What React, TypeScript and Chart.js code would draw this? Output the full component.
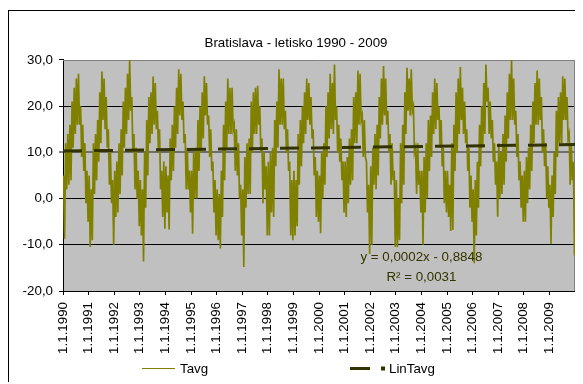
import React, { useEffect, useRef } from 'react';
import { Chart, registerables } from 'chart.js';

Chart.register(...registerables);

const chartTitle = 'Bratislava - letisko 1990 - 2009';
const firstYear = 1990;
const lastYear = 2010;

const xTickLabels = [
  '1.1.1990', '1.1.1991', '1.1.1992', '1.1.1993', '1.1.1994',
  '1.1.1995', '1.1.1996', '1.1.1997', '1.1.1998', '1.1.1999',
  '1.1.2000', '1.1.2001', '1.1.2002', '1.1.2003', '1.1.2004',
  '1.1.2005', '1.1.2006', '1.1.2007', '1.1.2008', '1.1.2009',
];

const yMin = -20;
const yMax = 30;
const yStep = 10;

// Tavg: highest daily value in each month, Jan..Dec, one row per year 1990..2009
const tavgMonthlyHigh = [
  5, 12, 14, 16, 21, 24, 26, 27, 20, 16, 12, 6,
  5, 2, 12, 14, 17, 23, 27.5, 26, 22, 15, 10, 4,
  6, 8, 12, 15, 21, 24, 27, 30, 22, 14, 11, 6,
  4, 2, 10, 17, 22, 23, 26.4, 25, 19, 15, 6, 8,
  7, 5, 13, 16, 20, 24, 28, 27, 21, 14, 11, 6,
  6, 10, 11, 17, 20, 23, 26.5, 25, 18, 15, 8, 4,
  2, 1, 6, 16, 21, 26, 24, 24, 16, 15, 12, 3,
  2, 9, 12, 13, 21, 23, 24, 24.4, 20, 13, 10, 7,
  8, 10, 11, 17, 21, 28, 26, 26, 19, 15, 8, 4,
  6, 4, 14, 17, 20, 23, 26, 25, 22, 15, 9, 6,
  5, 10, 12, 20, 23, 27, 25, 29, 20, 16, 13, 8,
  8, 9, 13, 15, 22, 23, 27.7, 27, 18, 17, 8, 3,
  7, 11, 14, 16, 22, 26, 28.7, 26, 19, 14, 12, 6,
  4, 0, 12, 16, 23, 28.3, 26, 28, 20, 11, 12, 6,
  6, 9, 12, 17, 18, 23, 26, 25, 20, 17, 11, 6,
  6, 3, 12, 16, 23, 26, 28.5, 24, 21, 15, 11, 5,
  2, 4, 8, 16, 20, 25, 29, 24, 21, 17, 12, 8,
  12, 10, 14, 18, 23, 27, 30, 26, 19, 14, 8, 5,
  6, 9, 11, 16, 21, 25, 27.7, 26, 22, 15, 12, 7,
  3, 5, 10, 19, 22, 23, 26.5, 26, 22, 14, 12, 8,
];

// Tavg: lowest daily value in each month, Jan..Dec, one row per year 1990..2009
const tavgMonthlyLow = [
  -8.7, 2, 3, 4, 11, 14, 16, 16, 9, 6, -1, -5,
  -10.5, -9, 1, 4, 8, 12, 17, 15, 11, 3, -1, -10,
  -4, -3, 1, 5, 11, 14, 17, 19, 10, 2, 0, -6,
  -8, -13.6, -2, 5, 12, 14, 16, 15, 10, 2, -4, -6.5,
  -3, -6.7, 4, 6, 11, 14, 18, 17, 12, 2, 2, -3,
  -7.6, 0, 0, 6, 10, 13, 18, 16, 9, 6, -3, -8,
  -9, -10.8, -4, 4, 11, 14, 14, 15, 6, 5, 0, -8,
  -14.8, -2, 1, 1, 10, 14, 14, 16, 10, -1, 2, -8,
  -8, -3, -4, 7, 11, 16, 16, 15, 10, 6, -8, -9,
  -8, -6, 3, 7, 12, 14, 17, 16, 13, 5, -4, -5,
  -7.5, 0, 3, 9, 13, 15, 14, 17, 10, 8, 4, -3,
  -4, -1, 3, 4, 12, 12, 16, 17, 9, 9, -3, -12,
  -10, 3, 2, 5, 13, 16, 18, 16, 10, 3, 4, -10.5,
  -10.5, -9, -1, 3, 14, 19, 18, 19, 10, 1, 3, -3,
  -10, -3, 0, 6, 9, 14, 15, 17, 11, 7, -1, -3,
  -4, -7, -6.8, 6, 10, 14, 17, 14, 12, 6, -2, -5,
  -14, -8, -2, 7, 11, 14, 21, 14, 13, 8, 3, -3.9,
  0, 1, 3, 8, 13, 17, 17, 16, 9, 4, -2, -5,
  -5, -1, 2, 6, 12, 16, 16, 17, 10, 7, 0, -2,
  -9.8, -4, 1, 9, 12, 12, 17, 17, 13, 3, 4, -12.3,
];

// Linear trend end values
const linTavgStart = 10.3;
const linTavgEnd = 11.7;

const seriesNames = ['Tavg', 'LinTavg'];
const trendEquation = 'y = 0,0002x - 0,8848';
const trendR2 = 'R² = 0,0031';
const equationAt = { x: 2004, y1: -12.7, y2: -17.0 };

const FONT = '"Liberation Sans", Arial, sans-serif';
const FS = 13.33;
const TAVG_COLOR = '#808000';
const TREND_COLOR = '#333300';

const plotFrame = {
  id: 'plotFrame',
  beforeDraw(chart: any) {
    const { ctx, chartArea: a } = chart;
    ctx.save();
    ctx.fillStyle = '#C0C0C0';
    ctx.fillRect(a.left, a.top, a.right - a.left, a.bottom - a.top);
    ctx.restore();
  },
  beforeDatasetsDraw(chart: any) {
    const { ctx, chartArea: a } = chart;
    ctx.save();
    ctx.strokeStyle = '#808080';
    ctx.lineWidth = 1;
    ctx.beginPath();
    const t = Math.round(a.top) + 0.5;
    const r = Math.round(a.right) - 0.5;
    ctx.moveTo(a.left, t);
    ctx.lineTo(r, t);
    ctx.lineTo(r, a.bottom);
    ctx.stroke();
    ctx.restore();
  },
};

const annotations = {
  id: 'annotations',
  afterDraw(chart: any) {
    const { ctx } = chart;
    const xs = chart.scales.x;
    const ys = chart.scales.y;
    ctx.save();
    // trend equation
    ctx.font = `${FS}px ${FONT}`;
    ctx.fillStyle = TREND_COLOR;
    ctx.textAlign = 'center';
    ctx.textBaseline = 'middle';
    const ex = xs.getPixelForValue(equationAt.x);
    ctx.fillText(trendEquation, ex, ys.getPixelForValue(equationAt.y1));
    ctx.fillText(trendR2, ex, ys.getPixelForValue(equationAt.y2));

    // legend
    const cx = chart.width / 2;
    const ly = chart.height - 16;
    ctx.textAlign = 'left';
    ctx.fillStyle = '#000';
    ctx.strokeStyle = TAVG_COLOR;
    ctx.lineWidth = 1;
    ctx.beginPath();
    ctx.moveTo(cx - 154, ly + 0.5);
    ctx.lineTo(cx - 121, ly + 0.5);
    ctx.stroke();
    ctx.fillText(seriesNames[0], cx - 116, ly + 1);

    ctx.fillStyle = TREND_COLOR;
    ctx.fillRect(cx + 54, ly - 1, 20, 3);
    ctx.fillRect(cx + 85, ly - 1.5, 4, 4);
    ctx.fillStyle = '#000';
    ctx.fillText(seriesNames[1], cx + 93, ly + 1);
    ctx.restore();
  },
};

export default function App() {
  const canvasRef = useRef<HTMLCanvasElement | null>(null);

  useEffect(() => {
    if (!canvasRef.current) return;
    Chart.defaults.font.family = FONT;
    Chart.defaults.color = '#000';

    const tavgPoints: { x: number; y: number }[] = [];
    for (let i = 0; i < tavgMonthlyHigh.length; i++) {
      tavgPoints.push({ x: firstYear + (i + 0.25) / 12, y: tavgMonthlyHigh[i] });
      tavgPoints.push({ x: firstYear + (i + 0.75) / 12, y: tavgMonthlyLow[i] });
    }
    const trendPoints = [
      { x: firstYear, y: linTavgStart },
      { x: lastYear, y: linTavgEnd },
    ];

    const chart = new Chart(canvasRef.current, {
      type: 'line',
      data: {
        datasets: [
          {
            label: seriesNames[0],
            data: tavgPoints,
            borderColor: TAVG_COLOR,
            backgroundColor: TAVG_COLOR,
            borderWidth: 1.7,
            pointRadius: 0,
            tension: 0,
            order: 2,
          },
          {
            label: seriesNames[1],
            data: trendPoints,
            borderColor: TREND_COLOR,
            backgroundColor: TREND_COLOR,
            borderWidth: 3,
            borderDash: [19, 12],
            pointRadius: 0,
            order: 1,
          },
        ],
      },
      options: {
        responsive: false,
        animation: false,
        devicePixelRatio: 1,
        layout: { padding: { left: 0, right: 0, top: 0, bottom: 31 } },
        plugins: {
          legend: { display: false },
          tooltip: { enabled: false },
          title: {
            display: true,
            text: chartTitle,
            color: '#000',
            font: { size: FS, weight: 'normal', family: FONT, lineHeight: 1.2 },
            padding: { top: 24, bottom: 9 },
          },
        },
        scales: {
          x: {
            type: 'linear',
            min: firstYear,
            max: lastYear,
            afterBuildTicks: (scale: any) => {
              const t = [];
              for (let y = firstYear; y <= lastYear; y++) t.push({ value: y });
              scale.ticks = t;
            },
            afterFit: (scale: any) => {
              scale.height = 62;
              scale.paddingRight = 8;
            },
            grid: {
              drawOnChartArea: false,
              drawTicks: true,
              tickLength: 4,
              color: '#000',
              tickColor: '#000',
            },
            border: { color: '#000', width: 1 },
            ticks: {
              autoSkip: false,
              maxRotation: 90,
              minRotation: 90,
              padding: 7,
              color: '#000',
              font: { size: FS, family: FONT },
              callback: (_v: any, index: number) => xTickLabels[index] ?? '',
            },
          },
          y: {
            min: yMin,
            max: yMax,
            afterFit: (scale: any) => {
              scale.width = 54;
            },
            grid: {
              color: (c: any) =>
                c.tick && c.tick.value === yMax
                  ? 'rgba(0,0,0,0)'
                  : c.tick && c.tick.value === 10
                  ? '#6e6e6e'
                  : '#000',
              lineWidth: (c: any) => (c.tick && c.tick.value === 10 ? 2 : 1),
              tickColor: '#000',
              tickWidth: 1,
              tickLength: 4,
            },
            border: { color: '#000', width: 1 },
            ticks: {
              stepSize: yStep,
              padding: 6,
              color: '#000',
              font: { size: FS, family: FONT },
              callback: (v: any) => Number(v).toFixed(1).replace('.', ','),
            },
          },
        },
      },
      plugins: [plotFrame, annotations],
    } as any);

    return () => chart.destroy();
  }, []);

  return (
    <div
      style={{
        position: 'relative',
        top: 2,
        width: 575,
        height: 374,
        borderLeft: '1px solid #000',
        borderTop: '1px solid #000',
        boxSizing: 'border-box',
        overflow: 'hidden',
      }}
    >
      <canvas ref={canvasRef} width={574} height={373} style={{ display: 'block' }} />
    </div>
  );
}
